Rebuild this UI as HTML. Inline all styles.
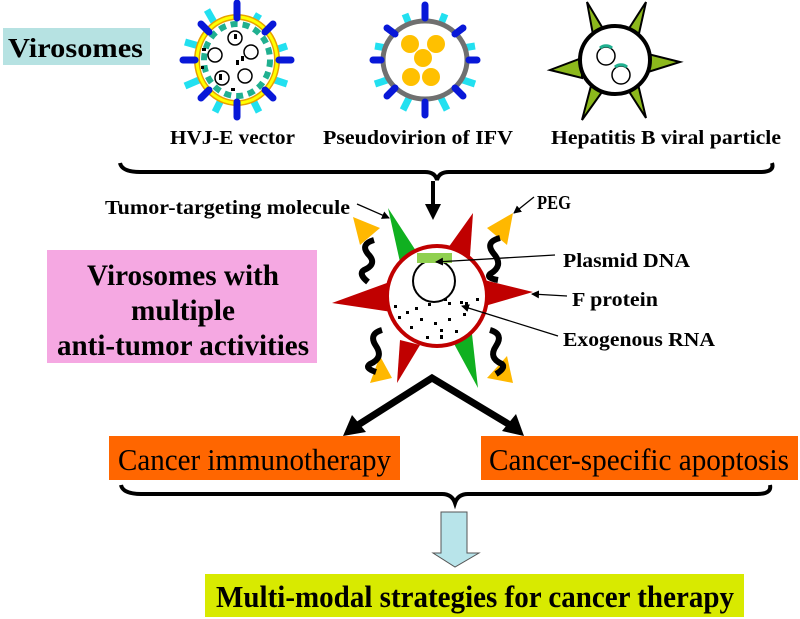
<!DOCTYPE html>
<html><head><meta charset="utf-8"><style>
body{margin:0;background:#fff}
svg{display:block}
text{font-family:"Liberation Serif",serif;font-weight:bold;fill:#000}
</style></head><body>
<svg width="800" height="619" viewBox="0 0 800 619" xmlns="http://www.w3.org/2000/svg">
<defs>
<marker id="ah" markerWidth="8" markerHeight="8" refX="7" refY="4" orient="auto" markerUnits="userSpaceOnUse"><path d="M0,0 L8,4 L0,8 z" fill="#000"/></marker>
</defs>
<rect x="3" y="28" width="147" height="37" fill="#b6e2e2"/>
<text x="8" y="57" font-size="27" textLength="135" lengthAdjust="spacingAndGlyphs">Virosomes</text>

<!-- HVJ-E -->
<g transform="translate(237,60)">
 <g stroke="#22e0f0" stroke-width="7">
  <line x1="-30" y1="-50" x2="-22" y2="-36"/><line x1="22" y1="-46" x2="16" y2="-36"/>
  <line x1="-52" y1="-18" x2="-38" y2="-14"/><line x1="50" y1="-14" x2="38" y2="-10"/>
  <line x1="-52" y1="26" x2="-38" y2="20"/><line x1="50" y1="24" x2="38" y2="20"/>
  <line x1="-22" y1="52" x2="-16" y2="40"/><line x1="22" y1="52" x2="16" y2="40"/>
 </g>
 <ellipse rx="40" ry="43" fill="#fff" stroke="#e8a000" stroke-width="6"/>
 <ellipse rx="40" ry="43" fill="none" stroke="#ffff00" stroke-width="3"/>
 <ellipse rx="33" ry="36" fill="none" stroke="#20b090" stroke-width="6" stroke-dasharray="7 5"/>
 <g stroke="#0818d8" stroke-width="7" stroke-linecap="round">
  <line x1="0" y1="-57" x2="0" y2="-42"/><line x1="0" y1="42" x2="0" y2="57"/>
  <line x1="-54" y1="0" x2="-42" y2="0"/><line x1="42" y1="0" x2="54" y2="0"/>
  <line x1="-36" y1="-36" x2="-28" y2="-28"/><line x1="36" y1="-36" x2="28" y2="-28"/>
  <line x1="-36" y1="38" x2="-28" y2="30"/><line x1="36" y1="38" x2="28" y2="30"/>
 </g>
 <g fill="none" stroke="#000" stroke-width="1.5">
  <circle cx="-2" cy="-22" r="7"/><circle cx="-22" cy="-5" r="7"/><circle cx="14" cy="-8" r="7"/>
  <circle cx="-15" cy="18" r="7"/><circle cx="8" cy="16" r="7"/>
 </g>
 <g fill="#000"><rect x="-3" y="-26" width="3" height="5"/><rect x="4" y="-4" width="3" height="5"/><rect x="-1" y="0" width="3" height="5"/><rect x="-35" y="-12" width="4" height="3"/><rect x="-36" y="6" width="3" height="3"/><rect x="-18" y="14" width="3" height="6"/><rect x="-6" y="28" width="4" height="3"/></g>
</g>

<!-- IFV -->
<g transform="translate(425,60)">
 <g stroke="#22e0f0" stroke-width="7">
  <line x1="-20" y1="-46" x2="-16" y2="-36"/><line x1="20" y1="-46" x2="16" y2="-36"/>
  <line x1="-50" y1="-14" x2="-38" y2="-12"/><line x1="50" y1="-14" x2="38" y2="-12"/>
  <line x1="-50" y1="24" x2="-38" y2="20"/><line x1="50" y1="24" x2="38" y2="20"/>
  <line x1="-22" y1="50" x2="-16" y2="38"/><line x1="22" y1="50" x2="16" y2="38"/>
 </g>
 <ellipse rx="42" ry="39" fill="#fff" stroke="#707070" stroke-width="5"/>
 <g stroke="#0818d8" stroke-width="7" stroke-linecap="round">
  <line x1="0" y1="-55" x2="0" y2="-42"/><line x1="0" y1="42" x2="0" y2="55"/>
  <line x1="-52" y1="0" x2="-44" y2="0"/><line x1="44" y1="0" x2="52" y2="0"/>
  <line x1="-38" y1="-32" x2="-30" y2="-26"/><line x1="38" y1="-32" x2="30" y2="-26"/>
  <line x1="-38" y1="36" x2="-30" y2="28"/><line x1="38" y1="36" x2="30" y2="28"/>
 </g>
 <g fill="#ffc000"><circle cx="-15" cy="-16" r="9"/><circle cx="11" cy="-16" r="9"/><circle cx="-2" cy="-2" r="9"/><circle cx="-14" cy="17" r="9"/><circle cx="6" cy="17" r="9"/></g>
</g>

<!-- HBV -->
<g fill="#8cb81c" stroke="#000" stroke-width="2">
 <polygon points="587,2 605,32 594,40"/><polygon points="646,2 628,30 638,38"/>
 <polygon points="550,70 582,58 582,78"/><polygon points="680,62 648,54 648,72"/>
 <polygon points="582,120 592,82 602,92"/><polygon points="646,118 628,90 638,84"/>
</g>
<ellipse cx="615" cy="60" rx="35" ry="34" fill="#fff" stroke="#000" stroke-width="4"/>
<circle cx="606" cy="56" r="9" fill="none" stroke="#000" stroke-width="1.5"/>
<circle cx="621" cy="75" r="9" fill="none" stroke="#000" stroke-width="1.5"/>
<path d="M600,48 a9,9 0 0 1 12,0" fill="none" stroke="#20b090" stroke-width="3"/>
<path d="M615,67 a9,9 0 0 1 12,0" fill="none" stroke="#20b090" stroke-width="3"/>

<text x="170" y="144" font-size="20" textLength="125" lengthAdjust="spacingAndGlyphs">HVJ-E vector</text>
<text x="323" y="144" font-size="20" textLength="190" lengthAdjust="spacingAndGlyphs">Pseudovirion of IFV</text>
<text x="551" y="144" font-size="20" textLength="230" lengthAdjust="spacingAndGlyphs">Hepatitis B viral particle</text>

<path d="M120,163 Q122,172 140,172 L425,172 Q435,172 437,180 Q439,172 449,172 L760,172 Q775,172 772,163" fill="none" stroke="#000" stroke-width="4"/>
<line x1="433" y1="181" x2="433" y2="206" stroke="#000" stroke-width="4"/>
<polygon points="425,204 441,204 433,220" fill="#000"/>

<!-- main virosome -->
<g fill="#c00000">
 <polygon points="473,213 448,248 470,256"/>
 <polygon points="332,303 395,280 392,312"/>
 <polygon points="533,292 476,278 478,308"/>
 <polygon points="397,383 400,340 420,345"/>
</g>
<polygon points="388,208 400,262 418,254" fill="#10b020"/>
<polygon points="478,388 452,340 472,334" fill="#10b020"/>
<g fill="#ffb800">
 <polygon points="353,217 380,228 360,245"/>
 <polygon points="513,213 487,228 507,245"/>
 <polygon points="370,383 380,356 392,378"/>
 <polygon points="513,383 507,356 487,378"/>
</g>
<g fill="none" stroke="#000" stroke-width="6">
 <path d="M374,240 q-14,4 -6,14 q10,10 -4,16 q-6,4 4,12"/>
 <path d="M500,238 q-16,4 -6,16 q10,12 -4,20 q-4,4 8,6"/>
 <path d="M382,330 q-14,4 -6,16 q8,12 -6,18 q-6,4 6,8"/>
 <path d="M490,330 q14,4 6,16 q-8,12 6,18 q4,4 -6,10"/>
</g>
<circle cx="437" cy="296" r="50" fill="#fff" stroke="#c00000" stroke-width="4"/>
<circle cx="434" cy="281" r="21" fill="none" stroke="#000" stroke-width="2"/>
<rect x="417" y="253" width="35" height="10" fill="#90d050"/>
<g fill="#000">
 <rect x="394" y="305" width="3" height="3"/><rect x="406" y="311" width="3" height="3"/><rect x="415" y="307" width="3" height="3"/><rect x="428" y="303" width="3" height="3"/><rect x="444" y="298" width="3" height="3"/><rect x="448" y="302" width="3" height="3"/><rect x="460" y="301" width="3" height="3"/><rect x="476" y="298" width="3" height="3"/><rect x="398" y="316" width="3" height="3"/><rect x="420" y="318" width="3" height="3"/><rect x="434" y="322" width="3" height="3"/><rect x="448" y="318" width="3" height="3"/><rect x="463" y="313" width="3" height="3"/><rect x="410" y="326" width="3" height="3"/><rect x="440" y="329" width="3" height="3"/><rect x="455" y="330" width="3" height="3"/><rect x="426" y="336" width="3" height="3"/><rect x="440" y="335" width="3" height="4"/><rect x="465" y="302" width="3" height="3"/>
</g>

<text x="105" y="214" font-size="20" textLength="245" lengthAdjust="spacingAndGlyphs">Tumor-targeting molecule</text>
<line x1="357" y1="204" x2="389" y2="218" stroke="#000" stroke-width="1.3" marker-end="url(#ah)"/>
<text x="537" y="209" font-size="20" textLength="34" lengthAdjust="spacingAndGlyphs">PEG</text>
<line x1="534" y1="197" x2="514" y2="213" stroke="#000" stroke-width="1.3" marker-end="url(#ah)"/>
<text x="563" y="267" font-size="20" textLength="127" lengthAdjust="spacingAndGlyphs">Plasmid DNA</text>
<line x1="555" y1="255" x2="436" y2="262" stroke="#000" stroke-width="1.3" marker-end="url(#ah)"/>
<text x="572" y="306" font-size="20" textLength="86" lengthAdjust="spacingAndGlyphs">F protein</text>
<line x1="567" y1="296" x2="532" y2="294" stroke="#000" stroke-width="1.3" marker-end="url(#ah)"/>
<text x="563" y="346" font-size="20" textLength="152" lengthAdjust="spacingAndGlyphs">Exogenous RNA</text>
<line x1="558" y1="336" x2="462" y2="306" stroke="#000" stroke-width="1.3" marker-end="url(#ah)"/>

<rect x="47" y="250" width="270" height="113" fill="#f5a8e2"/>
<text x="183" y="285" font-size="30" text-anchor="middle" textLength="192" lengthAdjust="spacingAndGlyphs">Virosomes with</text>
<text x="183" y="320" font-size="30" text-anchor="middle" textLength="104" lengthAdjust="spacingAndGlyphs">multiple</text>
<text x="183" y="355" font-size="30" text-anchor="middle" textLength="252" lengthAdjust="spacingAndGlyphs">anti-tumor activities</text>

<polyline points="358,425 432,378 510,425" fill="none" stroke="#000" stroke-width="7"/>
<polygon points="343,436 352,415 366,432" fill="#000"/>
<polygon points="524,436 502,431 516,414" fill="#000"/>

<rect x="109" y="436" width="291" height="44" fill="#ff6600"/>
<rect x="481" y="436" width="317" height="44" fill="#ff6600"/>
<text x="118" y="470" font-size="31" style="font-weight:normal" textLength="273" lengthAdjust="spacingAndGlyphs">Cancer immunotherapy</text>
<text x="489" y="470" font-size="31" style="font-weight:normal" textLength="300" lengthAdjust="spacingAndGlyphs">Cancer-specific apoptosis</text>

<path d="M121,485 Q123,494 141,494 L442,494 Q452,494 455,503 Q458,494 468,494 L757,494 Q772,494 770,485" fill="none" stroke="#000" stroke-width="4"/>
<polygon points="441,512 467,512 467,553 479,553 455,567 433,553 441,553" fill="#b8e4ea" stroke="#555" stroke-width="1"/>

<rect x="205" y="574" width="539" height="43" fill="#d8ea00"/>
<text x="216" y="607" font-size="31" textLength="518" lengthAdjust="spacingAndGlyphs">Multi-modal strategies for cancer therapy</text>
</svg>
</body></html>
